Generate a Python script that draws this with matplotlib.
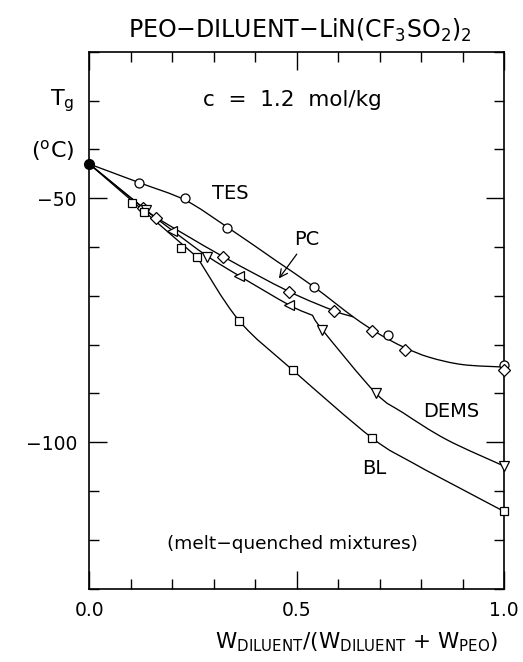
import numpy as np
from matplotlib import pyplot as plt
from matplotlib.path import Path
from matplotlib.patches import PathPatch
from matplotlib.ticker import FixedLocator, MultipleLocator

plt.rcParams['font.family'] = ['DejaVu Sans']
plt.rcParams['mathtext.fontset'] = 'dejavusans'

# pure PEO + salt (common starting point)
x0, tg0 = 0.0, -43.0

# measured Tg points
tes_x = [0.120, 0.231, 0.332, 0.542, 0.721, 1.0]
tes_y = [-46.9, -50.0, -56.1, -68.2, -78.1, -84.2]

pc_x = [0.130, 0.160, 0.321, 0.481, 0.591, 0.681, 0.761, 1.0]
pc_y = [-52.1, -54.0, -62.0, -69.2, -73.2, -77.2, -81.2, -85.3]

dems_x = [0.136, 0.200, 0.283, 0.361, 0.482, 0.562, 0.690, 1.0]
dems_y = [-52.4, -56.7, -62.0, -66.0, -71.9, -77.0, -89.9, -104.9]
dems_mk = ['v', '<', 'v', '<', '<', 'v', 'v', 'v']

bl_x = [0.103, 0.131, 0.220, 0.260, 0.361, 0.490, 0.681, 1.0]
bl_y = [-50.9, -52.9, -60.1, -62.1, -75.1, -85.2, -99.1, -114.2]

# hand-drawn guide curves (nodes), with corner indices where the curve breaks
tes_cx = [0.0, 0.120, 0.231, 0.332, 0.450, 0.542, 0.636, 0.700, 0.760, 0.820, 0.900, 1.0]
tes_cy = [-43.0, -46.8, -50.4, -55.9, -62.8, -68.2, -74.3, -77.9, -80.6, -82.6, -84.1, -84.6]
tes_br = []

pc_cx = [0.0, 0.130, 0.160, 0.321, 0.481, 0.591, 0.636]
pc_cy = [-43.0, -52.0, -53.9, -61.9, -69.1, -73.1, -74.3]
pc_br = []

dems_cx = [0.0, 0.136, 0.200, 0.283, 0.361, 0.482, 0.538, 0.562, 0.690, 0.757, 0.862, 1.0]
dems_cy = [-43.0, -52.4, -56.6, -61.8, -65.9, -71.9, -74.0, -77.0, -89.9, -94.0, -99.5, -104.9]
dems_br = [6]

bl_cx = [0.0, 0.260, 0.361, 0.490, 0.681, 0.781, 0.902, 1.0]
bl_cy = [-43.0, -62.1, -75.1, -85.2, -99.1, -104.3, -109.8, -114.2]
bl_br = [1]


def guide_curve(xs, ys, breaks):
    # Catmull-Rom style Bezier through the nodes, sharp at the break nodes
    pts = np.column_stack([xs, ys])
    n = len(pts)
    ends = [0] + list(breaks) + [n - 1]
    verts = [pts[0]]
    codes = [Path.MOVETO]
    for a, b in zip(ends[:-1], ends[1:]):
        for i in range(a, b):
            p0 = pts[max(i - 1, a)]
            p1 = pts[i]
            p2 = pts[i + 1]
            p3 = pts[min(i + 2, b)]
            verts += [p1 + (p2 - p0) / 6, p2 - (p3 - p1) / 6, p2]
            codes += [Path.CURVE4] * 3
    return Path(verts, codes)


fig = plt.figure(figsize=(5.23, 6.62), dpi=100)
ax = fig.add_axes([0.1711, 0.1110, 0.7926, 0.8106])

lw = 0.95
for cx, cy, br in [(tes_cx, tes_cy, tes_br), (pc_cx, pc_cy, pc_br),
                   (dems_cx, dems_cy, dems_br), (bl_cx, bl_cy, bl_br)]:
    ax.add_patch(PathPatch(guide_curve(cx, cy, br), fill=False, lw=lw, ec='black'))

# markers sitting on the right spine are drawn whole
mk = dict(mfc='white', mec='black', mew=0.9, ls='none', clip_on=False, zorder=4)
ax.plot(tes_x, tes_y, marker='o', ms=6.5, **mk)
ax.plot(pc_x, pc_y, marker='D', ms=6.5, **mk)
for xi, yi, m in zip(dems_x, dems_y, dems_mk):
    ax.plot(xi, yi, marker=m, ms=6.5, **mk)
ax.plot(bl_x, bl_y, marker='s', ms=5.5, **mk)
ax.plot(x0, tg0, marker='o', ms=7, color='black', ls='none', clip_on=False, zorder=5)

ax.text(0.339, -49.0, 'TES', fontsize=14, ha='center', va='center')
ax.text(0.523, -58.5, 'PC', fontsize=14, ha='center', va='center')
ax.annotate('', xy=(0.453, -66.9), xytext=(0.504, -61.0),
            arrowprops=dict(arrowstyle='->', lw=0.9, color='black', mutation_scale=14))
ax.text(0.872, -93.8, 'DEMS', fontsize=14, ha='center', va='center')
ax.text(0.686, -105.3, 'BL', fontsize=14, ha='center', va='center')
ax.text(0.49, -29.9, 'c  =  1.2  mol/kg', fontsize=15.5, ha='center', va='center')
ax.text(0.49, -120.8, '(melt\u2212quenched mixtures)', fontsize=13.3, ha='center', va='center')

ax.set_xlim(0, 1)
ax.set_ylim(-130, -20)
ax.xaxis.set_major_locator(FixedLocator([0.0, 0.5, 1.0]))
ax.xaxis.set_minor_locator(MultipleLocator(0.1))
ax.yaxis.set_major_locator(FixedLocator([-50, -100]))
ax.yaxis.set_minor_locator(MultipleLocator(10))
ax.set_xticklabels(['0.0', '0.5', '1.0'])
ax.set_yticklabels(['\u221250', '\u2212100'])
ax.tick_params(which='both', direction='in', top=True, right=True, width=1.0, labelsize=13.5)
ax.tick_params(which='major', length=13)
ax.tick_params(which='minor', length=7)
ax.tick_params(axis='x', which='major', pad=9)
ax.tick_params(axis='y', which='major', pad=9)
for s in ax.spines.values():
    s.set_linewidth(1.2)

fig.text(0.5727, 0.954, r'PEO$\mathregular{-}$DILUENT$\mathregular{-}$LiN(CF$_3$SO$_2$)$_2$',
         fontsize=17, ha='center', va='center')
fig.text(0.118, 0.848, r'T$_\mathregular{g}$', fontsize=16, ha='center', va='center')
fig.text(0.100, 0.773, r'($^\mathregular{o}$C)', fontsize=16, ha='center', va='center')
fig.text(0.681, 0.030,
         r'W$_\mathregular{DILUENT}$/(W$_\mathregular{DILUENT}$ + W$_\mathregular{PEO}$)',
         fontsize=15.5, ha='center', va='center')

fig.savefig('out.png', dpi=100)
